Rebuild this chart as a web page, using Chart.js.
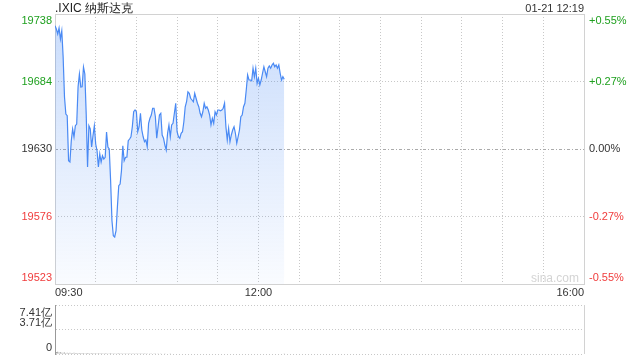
<!DOCTYPE html>
<html>
<head>
<meta charset="utf-8">
<script src="https://cdn.jsdelivr.net/npm/chart.js@4.4.1/dist/chart.umd.min.js"></script>
<style>
  html, body { margin: 0; padding: 0; background: #fff; }
  body { width: 640px; height: 360px; position: relative; overflow: hidden;
         font-family: "Liberation Sans", Arial, sans-serif; }
  canvas { position: absolute; left: 0; }
  #main { top: 0; }
  #vol { top: 295px; }
  .txt { position: absolute; white-space: nowrap; color: #222; }
  #title { left: 55px; top: 0px; font-size: 12px; line-height: 16px; }
  #stamp { right: 56px; top: 1px; font-size: 11px; line-height: 14px; color: #333; }
  #mark { left: 531px; top: 271px; font-size: 12px; line-height: 14px; color: #d4d4d4; }
</style>
</head>
<body>
<canvas id="main" width="640" height="300"></canvas>
<canvas id="vol" width="640" height="65"></canvas>
<div class="txt" id="title">.IXIC 纳斯达克</div>
<div class="txt" id="stamp">01-21 12:19</div>
<div class="txt" id="mark">sina.com</div>
<script>
// price per minute from 09:30
const prices = [
  19728.6, 19726, 19722, 19726.8, 19718, 19724.6, 19703.6, 19671.6, 19658, 19656.6,
  19620.6, 19619.6, 19636.6, 19646, 19639.6, 19648.6, 19650, 19679.6, 19690, 19679.6,
  19679.8, 19695.6, 19690, 19658, 19615.6, 19648.6, 19646, 19631.6, 19640.6, 19648.6,
  19634, 19628.6, 19615.6, 19626, 19619.6, 19624.6, 19622, 19623.4, 19643.6, 19631.6,
  19630, 19604.6, 19572.6, 19560.6, 19559.6, 19564.6, 19583.6, 19600.6, 19602, 19612.6,
  19632.6, 19620.6, 19623.4, 19623.4, 19636.6, 19638,
  19639.8, 19647.8, 19659.8, 19661.2, 19659.8, 19643.8, 19647.8, 19658.6, 19645.2, 19639.8,
  19635.8, 19637.2, 19631.8, 19650.6, 19654.6, 19657.2, 19662.6, 19662.6, 19655.8, 19638.6,
  19647.8, 19657.2, 19658.6, 19641.2, 19638.6, 19633.2, 19629.2, 19642.6, 19649.2, 19639.8,
  19649.2, 19650.6, 19658.6, 19666.6, 19643.8, 19639.8, 19638.6, 19642.6, 19643.8, 19651.8,
  19663.8, 19667.8, 19675.8, 19674.6, 19670.6, 19669.2, 19667.8, 19674.6,
  19670.6, 19666.6, 19663.8, 19658.6, 19655.8, 19659.8, 19666.6, 19662.6, 19663.8, 19661.2, 19657.2,
  19649.2, 19654.6, 19650.6, 19659.8, 19657.2, 19661.2, 19661.2, 19660.6, 19661.2, 19662.6,
  19666.6, 19647.8, 19637.2, 19646.6, 19635.8, 19641.2, 19645.2, 19647.8, 19642.6, 19634.6,
  19639.8, 19645.2, 19655.8, 19657.2, 19663.8, 19666.6, 19677.2, 19689.2, 19685.2, 19685.2,
  19684.6, 19694.6, 19687.8, 19694.6, 19682.6, 19686.6, 19681.2, 19685.2, 19690.6, 19695.8,
  19691.8, 19687.8, 19694.6, 19696.4, 19694.6, 19697.2, 19698.6, 19695.8, 19697.2, 19694.6,
  19697.2, 19690.6, 19685.2, 19687.8, 19685.8
];

// volume per minute, in 亿
const volumes = [
  0.46, 0.3, 0.34, 0.22, 0.27, 0.2, 0.18, 0.22, 0.17, 0.2, 0.16, 0.19, 0.15, 0.17, 0.18, 0.15, 0.16, 0.14, 0.17, 0.15,
  0.14, 0.16, 0.13, 0.15, 0.14, 0.16, 0.13, 0.14, 0.15, 0.13, 0.14, 0.12, 0.15, 0.13, 0.14, 0.12, 0.13, 0.14, 0.12, 0.13,
  0.12, 0.14, 0.12, 0.13, 0.11, 0.13, 0.12, 0.14, 0.12, 0.11, 0.13, 0.12, 0.11, 0.12, 0.13, 0.11, 0.12, 0.1, 0.12, 0.11,
  0.1, 0.12, 0.11, 0.1, 0.11, 0.12, 0.1, 0.11, 0.1, 0.09, 0.11, 0.1, 0.09, 0.1, 0.11, 0.09, 0.1, 0.09, 0.1, 0.08,
  0.09, 0.1, 0.08, 0.09, 0.08, 0.1, 0.09, 0.08, 0.09, 0.08, 0.09, 0.08, 0.07, 0.09, 0.08, 0.07, 0.08, 0.09, 0.07, 0.08,
  0.07, 0.08, 0.07, 0.08, 0.07, 0.09, 0.08, 0.07, 0.08, 0.07, 0.08, 0.07, 0.06, 0.08, 0.07, 0.07, 0.06, 0.08, 0.07, 0.06,
  0.07, 0.06, 0.07, 0.08, 0.06, 0.07, 0.06, 0.07, 0.06, 0.08, 0.07, 0.06, 0.07, 0.06, 0.07, 0.06, 0.07, 0.08, 0.07, 0.06,
  0.07, 0.06, 0.07, 0.06, 0.07, 0.06, 0.08, 0.07, 0.06, 0.07, 0.06, 0.07, 0.07, 0.06, 0.07, 0.08, 0.07, 0.07, 0.06, 0.07,
  0.07, 0.06, 0.07, 0.08, 0.07, 0.06, 0.07, 0.07, 0.06, 0.05
];

const prevClose = 19630;
const priceTicks = [19738, 19684, 19630, 19576, 19522];
const priceLabels = ['19738', '19684', '19630', '19576', '19523'];
const pctLabels = ['+0.55%', '+0.27%', '0.00%', '-0.27%', '-0.55%'];
const tickColors = ['#1fa01f', '#1fa01f', '#333', '#f03c3c', '#f03c3c'];

const timeTicks = [0, 150, 390];
const timeLabels = ['09:30', '12:00', '16:00'];

const volTicks = [7.41, 3.705, 0];
const volLabels = ['7.41亿', '3.71亿', '0'];

const FONT = '11px "Liberation Sans", Arial, sans-serif';
const BLUE = '#4a8af4';

const mainFrame = {
  id: 'mainFrame',
  beforeDatasetsDraw(chart) {
    const { ctx, chartArea: a, scales } = chart;
    ctx.save();
    const y0 = Math.round(scales.y.getPixelForValue(prevClose)) + 0.5;
    ctx.strokeStyle = '#aaa';
    ctx.lineWidth = 1;
    ctx.setLineDash([3, 2, 1, 2]);
    ctx.beginPath();
    ctx.moveTo(a.left, y0);
    ctx.lineTo(a.right, y0);
    ctx.stroke();
    ctx.setLineDash([]);
    ctx.strokeStyle = '#d2d2d2';
    ctx.strokeRect(Math.round(a.left) + 0.5, Math.round(a.top) + 0.5,
      Math.round(a.right - a.left), Math.round(a.bottom - a.top));
    ctx.restore();
  },
  afterDraw(chart) {
    const { ctx, chartArea: a, scales } = chart;
    ctx.save();
    ctx.font = FONT;
    priceTicks.forEach((v, i) => {
      const y = scales.y.getPixelForValue(v);
      ctx.textBaseline = i === 0 ? 'top' : (i === priceTicks.length - 1 ? 'bottom' : 'middle');
      const yy = i === 0 ? y + 1 : (i === priceTicks.length - 1 ? y - 1 : y);
      ctx.fillStyle = tickColors[i];
      ctx.textAlign = 'right';
      ctx.fillText(priceLabels[i], a.left - 3, yy);
      ctx.textAlign = 'left';
      ctx.fillText(pctLabels[i], a.right + 5, yy);
    });
    ctx.restore();
  }
};

const volFrame = {
  id: 'volFrame',
  afterDraw(chart) {
    const { ctx, chartArea: a, scales } = chart;
    ctx.save();
    ctx.strokeStyle = '#d2d2d2';
    ctx.beginPath();
    ctx.moveTo(Math.round(a.right) + 0.5, a.top);
    ctx.lineTo(Math.round(a.right) + 0.5, a.bottom);
    ctx.stroke();
    ctx.font = FONT;
    ctx.fillStyle = '#333';
    ctx.textAlign = 'right';
    volTicks.forEach((v, i) => {
      const y = scales.y.getPixelForValue(v);
      ctx.textBaseline = i === 0 ? 'top' : 'bottom';
      ctx.fillText(volLabels[i], a.left - 3, i === 0 ? y + 2 : y - 1);
    });
    ctx.restore();
  }
};

const dotted = (ctx) => '#d0d0d0';

new Chart(document.getElementById('main'), {
  type: 'line',
  data: {
    datasets: [{
      data: prices.map((p, i) => ({ x: i, y: p })),
      borderColor: BLUE,
      borderWidth: 1.2,
      pointRadius: 0,
      tension: 0,
      fill: 'start',
      backgroundColor(c) {
        const a = c.chart.chartArea;
        if (!a) return 'rgba(74,138,244,0.15)';
        const g = c.chart.ctx.createLinearGradient(0, a.top, 0, a.bottom);
        g.addColorStop(0, 'rgba(74,138,244,0.30)');
        g.addColorStop(1, 'rgba(74,138,244,0.03)');
        return g;
      },
    }],
  },
  options: {
    responsive: false,
    animation: false,
    layout: { padding: { top: 14, left: 0, right: 0, bottom: 0 } },
    plugins: { legend: { display: false }, tooltip: { enabled: false } },
    scales: {
      x: {
        type: 'linear',
        min: 0,
        max: 390,
        offset: false,
        afterFit(s) { s.height = 16; },
        border: { display: false, dash: [1, 2] },
        grid: {
          drawTicks: false,
          color: (c) => (c.tick && (c.tick.value === 0 || c.tick.value === 390)) ? 'rgba(0,0,0,0)' : '#c8c8c8',
        },
        ticks: {
          stepSize: 30,
          autoSkip: false,
          maxRotation: 0,
          align: 'inner',
          padding: 2,
          color: '#333',
          font: { family: '"Liberation Sans", Arial, sans-serif', size: 11 },
          callback: (v) => {
            const k = timeTicks.indexOf(v);
            return k >= 0 ? timeLabels[k] : '';
          },
        },
      },
      y: {
        position: 'left',
        min: priceTicks[priceTicks.length - 1],
        max: priceTicks[0],
        afterFit(s) { s.width = 55; },
        afterBuildTicks(s) { s.ticks = priceTicks.map((v) => ({ value: v })); },
        border: { display: false, dash: [1, 2] },
        grid: {
          drawTicks: false,
          color: (c) => (c.index === 1 || c.index === 3) ? '#c8c8c8' : 'rgba(0,0,0,0)',
        },
        ticks: { display: false },
      },
      y2: {
        position: 'right',
        min: priceTicks[priceTicks.length - 1],
        max: priceTicks[0],
        afterFit(s) { s.width = 56; },
        border: { display: false },
        grid: { display: false },
        ticks: { display: false },
      },
    },
  },
  plugins: [mainFrame],
});

new Chart(document.getElementById('vol'), {
  type: 'bar',
  data: {
    datasets: [{
      data: volumes.map((v, i) => ({ x: i, y: v })),
      backgroundColor: '#9a9a9a',
      barPercentage: 0.9,
      categoryPercentage: 0.8,
    }],
  },
  options: {
    responsive: false,
    animation: false,
    layout: { padding: { top: 10, left: 0, right: 56, bottom: 6 } },
    plugins: { legend: { display: false }, tooltip: { enabled: false } },
    scales: {
      x: {
        type: 'linear',
        min: 0,
        max: 390,
        offset: false,
        display: false,
      },
      y: {
        min: 0,
        max: 7.41,
        afterFit(s) { s.width = 55; },
        afterBuildTicks(s) { s.ticks = volTicks.map((v) => ({ value: v })); },
        border: { display: true, color: '#999', dash: [1, 2] },
        grid: { drawTicks: false, color: '#c8c8c8' },
        ticks: { display: false },
      },
    },
  },
  plugins: [volFrame],
});
</script>
</body>
</html>
